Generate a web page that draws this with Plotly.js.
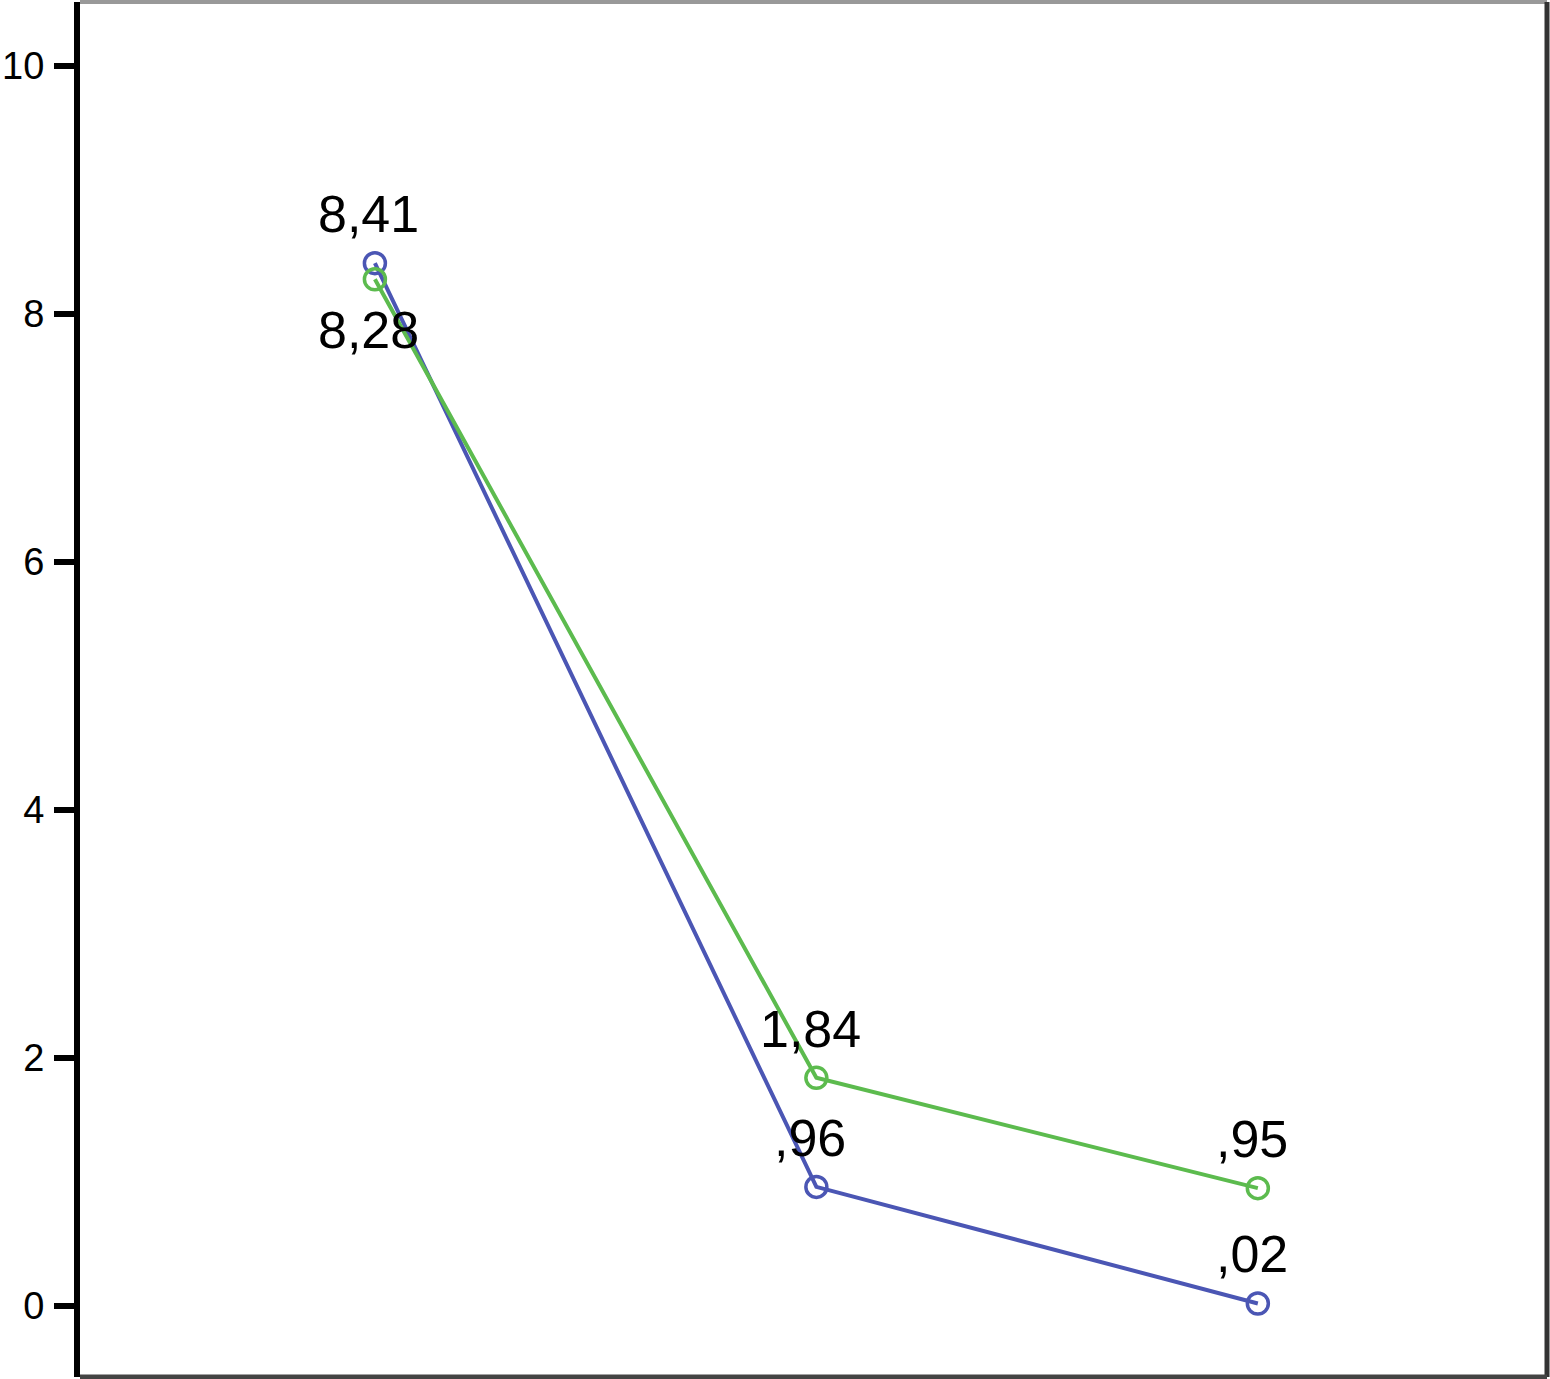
<!DOCTYPE html>
<html>
<head>
<meta charset="utf-8">
<script src="https://cdn.plot.ly/plotly-3.0.1.min.js"></script>
<style>html,body{margin:0;padding:0;background:#fff}#chart{width:1550px;height:1379px}</style>
</head>
<body>
<div id="chart"></div>
<script>
const categories = ["1", "2", "3"];
const blueValues = [8.41, 0.96, 0.02];
const greenValues = [8.28, 1.84, 0.95];
const blueLabels = ["8,41", ",96", ",02"];
const greenLabels = ["8,28", "1,84", ",95"];
const yTicks = [0, 2, 4, 6, 8, 10];

const blue = '#4b56b4';
const green = '#5cbb4e';

function trace(vals, color) {
  return {
    x: categories, y: vals, type: 'scatter', mode: 'lines+markers',
    line: {color: color, width: 4},
    marker: {symbol: 'circle-open', size: 21, color: color, line: {width: 3.5, color: color}},
    hoverinfo: 'none', showlegend: false
  };
}

const annotations = [];
categories.forEach((c, i) => {
  annotations.push({x: i, y: blueValues[i], xref: 'x', yref: 'y', text: blueLabels[i],
    showarrow: false, yshift: 49, xshift: -6, font: {family: 'Liberation Sans, Arial, sans-serif', size: 52, color: '#000'}});
  annotations.push({x: i, y: greenValues[i], xref: 'x', yref: 'y', text: greenLabels[i],
    showarrow: false, yshift: i === 0 ? -51 : 49, xshift: -6, font: {family: 'Liberation Sans, Arial, sans-serif', size: 52, color: '#000'}});
});

const layout = {
  width: 1550, height: 1379,
  margin: {l: 80, r: 3, t: 2, b: 2},
  paper_bgcolor: '#fff', plot_bgcolor: '#fff',
  xaxis: {type: 'category', range: [-0.668, 2.655], showgrid: false, zeroline: false,
    showticklabels: false, ticks: '', showline: false},
  yaxis: {range: [-0.573, 10.516], tickvals: yTicks, ticktext: yTicks.map(String),
    showgrid: false, zeroline: false, showline: true, linecolor: '#000', linewidth: 6,
    ticks: 'outside', ticklen: 20, tickwidth: 6, tickcolor: '#000', ticklabelstandoff: 2,
    tickfont: {family: 'Liberation Sans, Arial, sans-serif', size: 38, color: '#000'}},
  shapes: [
    {type: 'line', xref: 'paper', yref: 'paper', x0: 0, x1: 1, y0: 1, y1: 1, line: {color: '#999', width: 4}},
    {type: 'line', xref: 'paper', yref: 'paper', x0: 1, x1: 1, y0: 0, y1: 1, line: {color: '#333', width: 5}},
    {type: 'line', xref: 'paper', yref: 'paper', x0: 0, x1: 1, y0: 0, y1: 0, line: {color: '#444', width: 5}}
  ],
  annotations: annotations
};

Plotly.newPlot('chart', [trace(blueValues, blue), trace(greenValues, green)], layout, {staticPlot: true, displayModeBar: false});
</script>
</body>
</html>
